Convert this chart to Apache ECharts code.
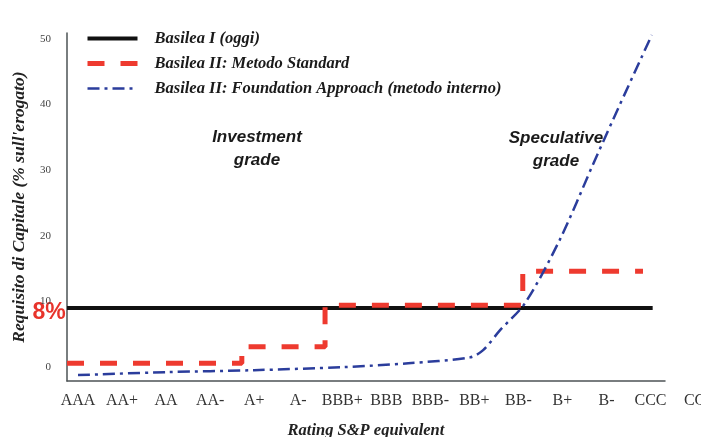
<!DOCTYPE html>
<html><head><meta charset="utf-8">
<script src="https://cdn.jsdelivr.net/npm/echarts@6/dist/echarts.min.js"></script>
<style>html,body{margin:0;padding:0;background:#fff}#c{width:701px;height:437px}</style>
</head><body><div id="c"></div>
<script>
// ---- data ----
const ratings = ['AAA','AA+','AA','AA-','A+','A-','BBB+','BBB','BBB-','BB+','BB-','B+','B-','CCC','CC'];
const yTickValues = [0, 10, 20, 30, 40, 50];
const seriesNames = ['Basilea I (oggi)', 'Basilea II: Metodo Standard', 'Basilea II: Foundation Approach (metodo interno)'];
const basilea1Level = 9.0;
const basilea1Span = [-0.25, 13.05];
const standardX = [-0.25, 3.72, 5.61, 10.1, 12.83];
const standardY = [0.6, 3.1, 9.45, 14.6, 14.6];
const foundationX = [0, 2, 4, 6, 7.5, 8.9, 9.2, 9.58, 10.15, 10.94, 11.69, 12.15, 13.03];
const foundationY = [-1.2, -0.75, -0.45, 0, 0.6, 1.5, 2.6, 5.6, 9.75, 19.4, 30.8, 37.7, 50.6];

const SERIF = '"Liberation Serif", "DejaVu Serif", serif';
const SANS = '"Liberation Sans", Arial, sans-serif';
const colors = ['#111111', '#ee3a2f', '#2b3d9c'];
const lineStyles = [
  {color: colors[0], width: 4, type: 'solid'},
  {color: colors[1], width: 5, type: [17, 16]},
  {color: colors[2], width: 2.5, type: [12, 5, 3, 5]}
];

const chart = echarts.init(document.getElementById('c'), null, {renderer: 'canvas'});
const zip = (xs, ys) => xs.map((x, i) => [x, ys[i]]);

chart.setOption({
  backgroundColor: '#ffffff',
  animation: false,
  grid: [
    {left: 67, top: 33, width: 598, height: 348, outerBoundsMode: 'none', containLabel: false},
    {left: 67, top: 33, width: 649.6, height: 348, outerBoundsMode: 'none', containLabel: false}
  ],
  xAxis: [
    {type: 'value', gridIndex: 0, min: -0.25, max: 13.33,
     axisLine: {show: true, onZero: false, lineStyle: {color: '#4d5355', width: 1.5}},
     axisTick: {show: false}, axisLabel: {show: false}, splitLine: {show: false},
     name: 'Rating S&P equivalent', nameLocation: 'middle', nameGap: 41,
     nameTextStyle: {fontFamily: SERIF, fontStyle: 'italic', fontWeight: 'bold', fontSize: 16.5, color: '#222'}},
    {type: 'value', gridIndex: 1, min: -0.25, max: 14.5,
     axisLine: {show: false}, axisTick: {show: false}, splitLine: {show: false},
     axisLabel: {customValues: ratings.map((_, i) => i), formatter: v => ratings[Math.round(v)],
       margin: 12, fontFamily: SERIF, fontSize: 16, color: '#333'}}
  ],
  yAxis: [
    {type: 'value', gridIndex: 0, min: -2.1, max: 50.9,
     axisLine: {show: true, onZero: false, lineStyle: {color: '#4d5355', width: 1.5}},
     axisTick: {show: false}, splitLine: {show: false},
     axisLabel: {customValues: yTickValues, margin: 16, fontFamily: SERIF, fontSize: 11, color: '#444'},
     name: "Requisito di Capitale (% sull'erogato)", nameLocation: 'middle', nameGap: 39,
     nameTextStyle: {fontFamily: SERIF, fontStyle: 'italic', fontWeight: 'bold', fontSize: 17.5, color: '#222'}},
    {type: 'value', gridIndex: 1, min: -2.1, max: 50.9, show: false}
  ],
  legend: {
    left: 85, top: 30, padding: 0, orient: 'vertical', itemWidth: 50, itemHeight: 14, itemGap: 8,
    itemStyle: {opacity: 0},
    data: seriesNames.map((n, i) => ({name: n, lineStyle: lineStyles[i], itemStyle: {opacity: 0}})),
    textStyle: {fontFamily: SERIF, fontStyle: 'italic', fontWeight: 'bold', fontSize: 16.5, color: '#1a1a1a', padding: [0, 0, 0, 12]}
  },
  series: [
    {name: seriesNames[0], type: 'line', xAxisIndex: 0, yAxisIndex: 0, symbol: 'none',
     data: basilea1Span.map(x => [x, basilea1Level]),
     lineStyle: lineStyles[0], itemStyle: {color: colors[0]}},
    {name: seriesNames[1], type: 'line', xAxisIndex: 0, yAxisIndex: 0, symbol: 'none', step: 'end',
     data: zip(standardX, standardY),
     lineStyle: lineStyles[1], itemStyle: {color: colors[1]}},
    {name: seriesNames[2], type: 'line', xAxisIndex: 0, yAxisIndex: 0, symbol: 'none', smooth: 0.3,
     data: zip(foundationX, foundationY),
     lineStyle: lineStyles[2], itemStyle: {color: colors[2]}},
    {type: 'line', xAxisIndex: 1, yAxisIndex: 1, data: [], silent: true}
  ],
  graphic: [
    {type: 'text', silent: true, style: {text: 'Investment\ngrade', x: 257, y: 149, align: 'center', verticalAlign: 'middle',
      font: 'italic bold 17px ' + SANS, fill: '#1a1a1a', lineHeight: 23,
      shadowColor: 'rgba(0,0,0,0.35)', shadowBlur: 2}},
    {type: 'text', silent: true, style: {text: 'Speculative\ngrade', x: 556, y: 150, align: 'center', verticalAlign: 'middle',
      font: 'italic bold 17px ' + SANS, fill: '#1a1a1a', lineHeight: 23,
      shadowColor: 'rgba(0,0,0,0.35)', shadowBlur: 2}},
    {type: 'text', silent: true, style: {text: '8%', x: 49, y: 313, align: 'center', verticalAlign: 'middle',
      font: 'bold 23px ' + SANS, fill: '#e8332b'}}
  ]
});
</script>
</body></html>
